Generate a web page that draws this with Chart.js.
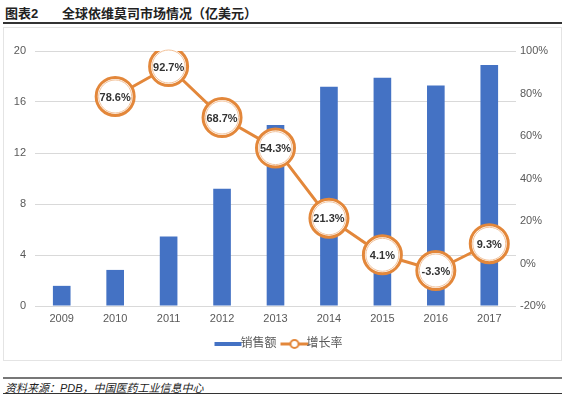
<!DOCTYPE html>
<html>
<head>
<meta charset="utf-8">
<script src="https://cdn.jsdelivr.net/npm/chart.js@4.4.0/dist/chart.umd.min.js"></script>
<style>
  body { margin: 0; background: #fff; font-family: 'Liberation Sans', 'Noto Sans CJK SC', sans-serif; }
  #page { position: relative; width: 568px; height: 398px; overflow: hidden; }
  #title { position: absolute; left: 5px; top: 3px; font-size: 13px; font-weight: bold; color: #222; white-space: nowrap; }
  #title .num { display: inline-block; width: 57px; }
  #rule1 { position: absolute; left: 3px; top: 22px; width: 559px; height: 2px; background: #333; }
  #frame { position: absolute; left: 3px; top: 27px; width: 557px; height: 332px; border: 1px solid #e4e4e4; }
  #chart { display: block; }
  #rule2 { position: absolute; left: 3px; top: 377px; width: 559px; height: 2px; background: #777; }
  #source { position: absolute; left: 5px; top: 379px; font-size: 11px; font-style: italic; color: #222; white-space: nowrap; }
  #rule3 { position: absolute; left: 3px; top: 393px; width: 559px; height: 1px; background: #333; }
</style>
</head>
<body>
<div id="page">
  <div id="title"><span class="num">图表2</span>全球依维莫司市场情况（亿美元）</div>
  <div id="rule1"></div>
  <div id="frame"><canvas id="chart" width="557" height="332"></canvas></div>
  <div id="rule2"></div>
  <div id="source">资料来源：PDB，中国医药工业信息中心</div>
  <div id="rule3"></div>
</div>
<script>
// values
const years = ['2009', '2010', '2011', '2012', '2013', '2014', '2015', '2016', '2017'];
const sales = [1.58, 2.83, 5.45, 9.2, 14.2, 17.2, 17.9, 17.3, 18.9];
const growth = [null, 78.6, 92.7, 68.7, 54.3, 21.3, 4.1, -3.3, 9.3];
const growthLabels = ['', '78.6%', '92.7%', '68.7%', '54.3%', '21.3%', '4.1%', '-3.3%', '9.3%'];

const blue = '#4472C4';
const orange = '#E3873A';
const font = "'Liberation Sans', 'Noto Sans CJK SC', sans-serif";

// legend swatches
function swatch(kind) {
    const c = document.createElement('canvas');
    c.width = 30; c.height = 12;
    const g = c.getContext('2d');
    if (kind === 'bar') {
        g.fillStyle = blue;
        g.fillRect(1, 4, 27, 4);
    } else {
        g.strokeStyle = orange;
        g.lineWidth = 3;
        g.beginPath(); g.moveTo(1, 6); g.lineTo(29, 6); g.stroke();
        g.fillStyle = '#fff';
        g.lineWidth = 2;
        g.beginPath(); g.arc(15, 6, 4, 0, Math.PI * 2); g.fill(); g.stroke();
    }
    return c;
}
const legendIcons = [swatch('bar'), swatch('line')];

const pointLabels = {
    id: 'pointLabels',
    afterDatasetsDraw(chart) {
        const ctx = chart.ctx;
        const meta = chart.getDatasetMeta(1);
        ctx.save();
        ctx.font = 'bold 11px ' + font;
        ctx.fillStyle = '#333';
        ctx.textAlign = 'center';
        ctx.textBaseline = 'middle';
        meta.data.forEach((pt, i) => {
            if (growth[i] === null) return;
            // thin inner ring
            ctx.strokeStyle = '#F2C29A';
            ctx.lineWidth = 1;
            ctx.beginPath(); ctx.arc(pt.x, pt.y, 16.5, 0, Math.PI * 2); ctx.stroke();
            ctx.fillText(growthLabels[i], pt.x, pt.y + 1);
        });
        ctx.restore();
    }
};

new Chart(document.getElementById('chart'), {
    data: {
        labels: years,
        datasets: [
            {
                type: 'bar',
                label: '销售额',
                data: sales,
                backgroundColor: blue,
                yAxisID: 'y',
                order: 1,
                categoryPercentage: 1,
                barPercentage: 0.33
            },
            {
                type: 'line',
                label: '增长率',
                data: growth,
                yAxisID: 'y1',
                order: 0,
                borderColor: orange,
                borderWidth: 3,
                pointStyle: 'circle',
                pointRadius: 19,
                pointBorderWidth: 3,
                pointBackgroundColor: '#fff',
                pointBorderColor: orange,
                spanGaps: false
            }
        ]
    },
    options: {
        responsive: false,
        animation: false,
        devicePixelRatio: 1,
        layout: { padding: { top: 23, left: 0, right: 0, bottom: 0 } },
        scales: {
            x: {
                grid: { display: false, drawTicks: false },
                border: { display: false },
                ticks: { color: '#595959', font: { family: font, size: 11 }, padding: 6 },
                afterFit(s) { s.height = 20; }
            },
            y: {
                position: 'left',
                min: 0, max: 20,
                ticks: { stepSize: 4, color: '#595959', font: { family: font, size: 11 }, padding: 9 },
                grid: { color: '#D9D9D9', drawTicks: false },
                border: { display: false },
                afterFit(s) { s.width = 31; }
            },
            y1: {
                position: 'right',
                min: -20, max: 100,
                ticks: { stepSize: 20, color: '#595959', font: { family: font, size: 11 }, padding: 4,
                    callback: v => v + '%' },
                grid: { display: false, drawTicks: false },
                border: { display: false },
                afterFit(s) { s.width = 45; }
            }
        },
        plugins: {
            tooltip: { enabled: false },
            legend: {
                position: 'bottom',
                labels: {
                    usePointStyle: true,
                    color: '#595959',
                    font: { family: font, size: 12 },
                    padding: 12,
                    generateLabels(chart) {
                        return chart.data.datasets.map((ds, i) => ({
                            text: ds.label,
                            pointStyle: legendIcons[i],
                            fillStyle: 'transparent',
                            strokeStyle: 'transparent',
                            lineWidth: 0,
                            datasetIndex: i,
                            fontColor: '#595959'
                        }));
                    }
                }
            }
        }
    },
    plugins: [pointLabels]
});
</script>
</body>
</html>
